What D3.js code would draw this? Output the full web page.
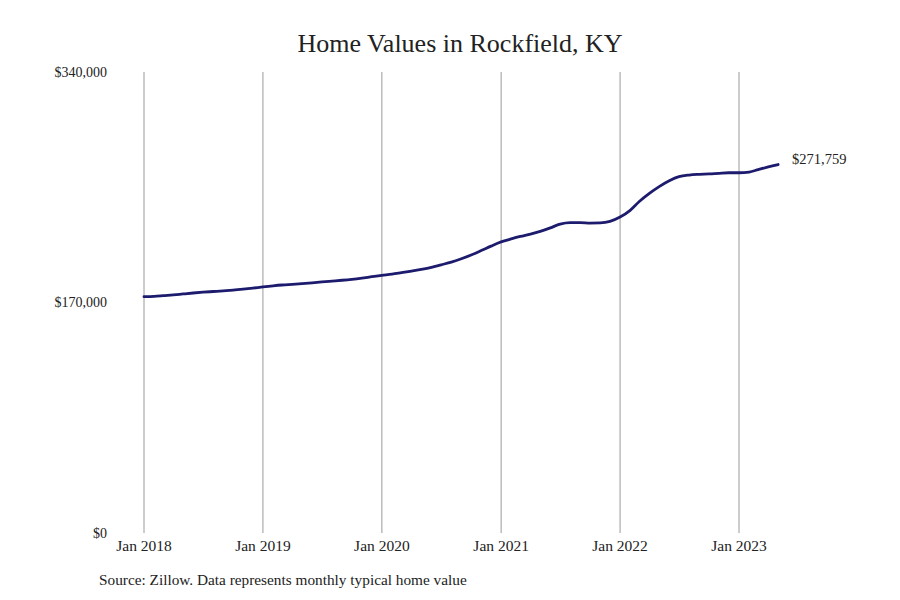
<!DOCTYPE html>
<html>
<head>
<meta charset="utf-8">
<script src="https://cdn.jsdelivr.net/npm/d3@7"></script>
<style>
  html, body { margin: 0; padding: 0; background: #fff; }
  svg text { font-family: "Liberation Serif", "Times New Roman", serif; fill: #222; }
</style>
</head>
<body>
<svg id="chart" width="900" height="600"></svg>
<script>
// ---- data ----
const title = "Home Values in Rockfield, KY";
const source = "Source: Zillow. Data represents monthly typical home value";
const startMonth = "2018-01";
const values = [
  // 2018
  174300, 174500, 175000, 175600, 176300, 177000, 177600, 178100, 178600, 179100, 179800, 180600,
  // 2019
  181500, 182300, 182900, 183400, 183900, 184500, 185200, 185800, 186400, 187100, 188000, 189000,
  // 2020
  190000, 190900, 192000, 193200, 194400, 195900, 197800, 199800, 202300, 205000, 208300, 211600,
  // 2021
  214700, 216900, 218700, 220400, 222400, 225000, 227800, 228900, 228900, 228600, 228700, 229800,
  // 2022
  233000, 238000, 244500, 250500, 255500, 259800, 262800, 264000, 264500, 264800, 265300, 265700,
  // 2023
  265700, 266200, 268000, 270000, 271759
];
const xTickLabels = ["Jan 2018", "Jan 2019", "Jan 2020", "Jan 2021", "Jan 2022", "Jan 2023"];
const yTicks = [0, 170000, 340000];
const endLabel = "$271,759";

// ---- build ----
const parseMonth = d3.timeParse("%Y-%m");
const t0 = parseMonth(startMonth);
const data = values.map((v, i) => ({ date: d3.timeMonth.offset(t0, i), value: v }));
const tickDates = xTickLabels.map(s => d3.timeParse("%b %Y")(s));

const svg = d3.select("#chart");
const x = d3.scaleTime()
  .domain([tickDates[0], tickDates[tickDates.length - 1]])
  .range([144, 739]);
const y = d3.scaleLinear().domain([0, 340000]).range([533, 72]);

// title
svg.append("text")
  .attr("x", 460).attr("y", 52)
  .attr("text-anchor", "middle")
  .style("font-size", "26px")
  .text(title);

// vertical grid lines
svg.append("g").selectAll("line")
  .data(tickDates)
  .join("line")
  .attr("x1", d => x(d)).attr("x2", d => x(d))
  .attr("y1", y(340000)).attr("y2", y(0))
  .attr("stroke", "#9a9a9a").attr("stroke-width", 1);

// x tick labels
svg.append("g").selectAll("text")
  .data(tickDates)
  .join("text")
  .attr("x", d => x(d)).attr("y", 551)
  .attr("text-anchor", "middle")
  .style("font-size", "15.5px")
  .text((d, i) => xTickLabels[i]);

// y tick labels
const yFmt = v => "$" + d3.format(",")(v);
svg.append("g").selectAll("text")
  .data(yTicks)
  .join("text")
  .attr("x", 107).attr("y", d => y(d))
  .attr("dy", "0.35em")
  .attr("text-anchor", "end")
  .style("font-size", "14px")
  .text(d => yFmt(d));

// line
const line = d3.line()
  .x(d => x(d.date))
  .y(d => y(d.value))
  .curve(d3.curveMonotoneX);
svg.append("path")
  .datum(data)
  .attr("fill", "none")
  .attr("stroke", "#1d1b6d")
  .attr("stroke-width", 2.8)
  .attr("stroke-linecap", "round")
  .attr("d", line);

// end label
const last = data[data.length - 1];
svg.append("text")
  .attr("x", x(last.date) + 14)
  .attr("y", y(last.value) - 6)
  .attr("dy", "0.35em")
  .style("font-size", "14.5px")
  .text(endLabel);

// source
svg.append("text")
  .attr("x", 99).attr("y", 585)
  .style("font-size", "15.3px")
  .text(source);
</script>
</body>
</html>
